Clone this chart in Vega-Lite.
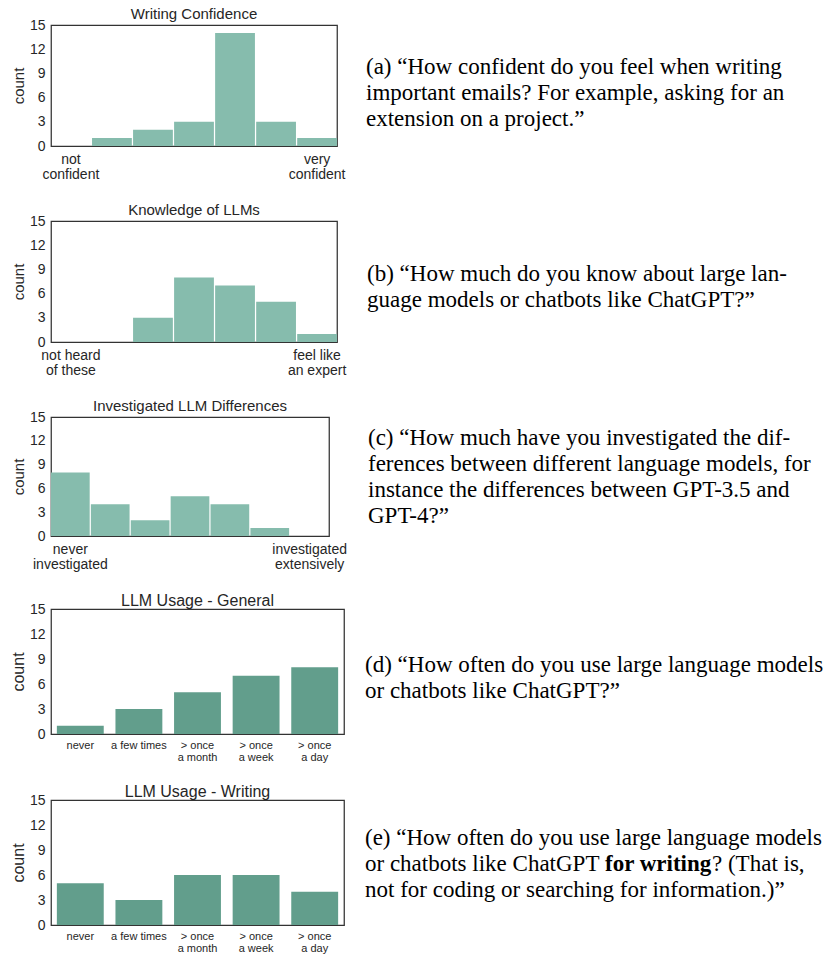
{
  "$schema": "https://vega.github.io/schema/vega-lite/v6.json",
  "padding": {"left": 9, "top": 6, "right": 0, "bottom": 0},
  "spacing": 20,
  "config": {
    "view": {"stroke": "#333333", "strokeWidth": 1.25},
    "axis": {"domain": false, "ticks": false, "grid": false, "labelFont": "Liberation Sans", "titleFont": "Liberation Sans", "labelColor": "#262626", "titleColor": "#262626", "titleFontWeight": "normal", "labelFontSize": 14, "titleFontSize": 15, "labelPadding": 6, "titlePadding": 3},
    "title": {"font": "Liberation Sans", "fontSize": 15, "fontWeight": "normal", "color": "#262626", "offset": -4},
    "text": {"font": "Liberation Serif", "fontSize": 23, "color": "#000000"}
  },
  "vconcat": [
    {
      "spacing": 20,
      "hconcat": [
        {
          "width": 286, "height": 121,
          "title": "Writing Confidence",
          "data": {"values": [
            {"level": 1, "count": 0}, {"level": 2, "count": 1}, {"level": 3, "count": 2}, {"level": 4, "count": 3},
            {"level": 5, "count": 14}, {"level": 6, "count": 3}, {"level": 7, "count": 1}
          ]},
          "mark": {"type": "bar", "color": "#86bcad"},
          "encoding": {
            "x": {"field": "level", "type": "ordinal", "scale": {"paddingInner": 0.03, "paddingOuter": 0}, "axis": {"title": null, "labelAngle": 0, "labelFontSize": 14, "labelLineHeight": 15, "labelPadding": 6, "labelExpr": "datum.value == 1 ? ['not', 'confident'] : datum.value == 7 ? ['very', 'confident'] : ''"}},
            "y": {"field": "count", "type": "quantitative", "scale": {"domain": [0, 15], "nice": false}, "axis": {"values": [0, 3, 6, 9, 12, 15], "title": "count"}}
          }
        },
        {
          "width": 460, "height": 121,
          "view": {"stroke": null},
          "data": {"values": [{"caption": "(a) “How confident do you feel when writing\nimportant emails? For example, asking for an\nextension on a project.”"}]},
          "mark": {"type": "text", "font": "Liberation Serif", "fontSize": 23, "align": "left", "baseline": "middle", "lineBreak": "\n", "lineHeight": 26, "dy": -18.5},
          "encoding": {"text": {"field": "caption"}, "x": {"value": 0}}
        }
      ]
    },
    {
      "spacing": 20,
      "hconcat": [
        {
          "width": 286, "height": 121,
          "title": "Knowledge of LLMs",
          "data": {"values": [
            {"level": 1, "count": 0}, {"level": 2, "count": 0}, {"level": 3, "count": 3}, {"level": 4, "count": 8},
            {"level": 5, "count": 7}, {"level": 6, "count": 5}, {"level": 7, "count": 1}
          ]},
          "mark": {"type": "bar", "color": "#86bcad"},
          "encoding": {
            "x": {"field": "level", "type": "ordinal", "scale": {"paddingInner": 0.03, "paddingOuter": 0}, "axis": {"title": null, "labelAngle": 0, "labelFontSize": 14, "labelLineHeight": 15, "labelPadding": 6, "labelExpr": "datum.value == 1 ? ['not heard', 'of these'] : datum.value == 7 ? ['feel like', 'an expert'] : ''"}},
            "y": {"field": "count", "type": "quantitative", "scale": {"domain": [0, 15], "nice": false}, "axis": {"values": [0, 3, 6, 9, 12, 15], "title": "count"}}
          }
        },
        {
          "width": 460, "height": 121,
          "view": {"stroke": null},
          "data": {"values": [{"caption": "(b) “How much do you know about large lan-\nguage models or chatbots like ChatGPT?”"}]},
          "mark": {"type": "text", "font": "Liberation Serif", "fontSize": 23, "align": "left", "baseline": "middle", "lineBreak": "\n", "lineHeight": 26, "dy": -7.5},
          "encoding": {"text": {"field": "caption"}, "x": {"value": 0}}
        }
      ]
    },
    {
      "spacing": 20,
      "hconcat": [
        {
          "width": 278, "height": 119,
          "title": "Investigated LLM Differences",
          "data": {"values": [
            {"level": 1, "count": 8}, {"level": 2, "count": 4}, {"level": 3, "count": 2}, {"level": 4, "count": 5},
            {"level": 5, "count": 4}, {"level": 6, "count": 1}, {"level": 7, "count": 0}
          ]},
          "mark": {"type": "bar", "color": "#86bcad"},
          "encoding": {
            "x": {"field": "level", "type": "ordinal", "scale": {"paddingInner": 0.03, "paddingOuter": 0}, "axis": {"title": null, "labelAngle": 0, "labelFontSize": 14, "labelLineHeight": 15, "labelPadding": 6, "labelExpr": "datum.value == 1 ? ['never', 'investigated'] : datum.value == 7 ? ['investigated', 'extensively'] : ''"}},
            "y": {"field": "count", "type": "quantitative", "scale": {"domain": [0, 15], "nice": false}, "axis": {"values": [0, 3, 6, 9, 12, 15], "title": "count"}}
          }
        },
        {
          "width": 460, "height": 119,
          "view": {"stroke": null},
          "data": {"values": [{"caption": "(c) “How much have you investigated the dif-\nferences between different language models, for\ninstance the differences between GPT-3.5 and\nGPT-4?”"}]},
          "mark": {"type": "text", "font": "Liberation Serif", "fontSize": 23, "align": "left", "baseline": "middle", "lineBreak": "\n", "lineHeight": 26, "dy": -38.5},
          "encoding": {"text": {"field": "caption"}, "x": {"value": 0}}
        }
      ]
    },
    {
      "spacing": 20,
      "hconcat": [
        {
          "width": 293, "height": 125,
          "title": {"text": "LLM Usage - General", "fontSize": 16, "offset": -7},
          "data": {"values": [
            {"freq": "never", "count": 1}, {"freq": "a few times", "count": 3}, {"freq": "> once a month", "count": 5},
            {"freq": "> once a week", "count": 7}, {"freq": "> once a day", "count": 8}
          ]},
          "mark": {"type": "bar", "color": "#629e8c"},
          "encoding": {
            "x": {"field": "freq", "type": "nominal", "sort": null, "scale": {"paddingInner": 0.2, "paddingOuter": 0.1}, "axis": {"title": null, "labelAngle": 0, "labelFontSize": 11, "labelLineHeight": 12, "labelPadding": 5, "labelExpr": "substring(datum.value, 0, 6) == '> once' ? ['> once', substring(datum.value, 7)] : datum.value"}},
            "y": {"field": "count", "type": "quantitative", "scale": {"domain": [0, 15], "nice": false}, "axis": {"values": [0, 3, 6, 9, 12, 15], "title": "count", "titleFontSize": 16}}
          }
        },
        {
          "width": 460, "height": 125,
          "view": {"stroke": null},
          "data": {"values": [{"caption": "(d) “How often do you use large language models\nor chatbots like ChatGPT?”"}]},
          "mark": {"type": "text", "font": "Liberation Serif", "fontSize": 23, "align": "left", "baseline": "middle", "lineBreak": "\n", "lineHeight": 26, "dy": -6.5},
          "encoding": {"text": {"field": "caption"}, "x": {"value": 0}}
        }
      ]
    },
    {
      "spacing": 20,
      "hconcat": [
        {
          "width": 293, "height": 125,
          "title": {"text": "LLM Usage - Writing", "fontSize": 16, "offset": -7},
          "data": {"values": [
            {"freq": "never", "count": 5}, {"freq": "a few times", "count": 3}, {"freq": "> once a month", "count": 6},
            {"freq": "> once a week", "count": 6}, {"freq": "> once a day", "count": 4}
          ]},
          "mark": {"type": "bar", "color": "#629e8c"},
          "encoding": {
            "x": {"field": "freq", "type": "nominal", "sort": null, "scale": {"paddingInner": 0.2, "paddingOuter": 0.1}, "axis": {"title": null, "labelAngle": 0, "labelFontSize": 11, "labelLineHeight": 12, "labelPadding": 5, "labelExpr": "substring(datum.value, 0, 6) == '> once' ? ['> once', substring(datum.value, 7)] : datum.value"}},
            "y": {"field": "count", "type": "quantitative", "scale": {"domain": [0, 15], "nice": false}, "axis": {"values": [0, 3, 6, 9, 12, 15], "title": "count", "titleFontSize": 16}}
          }
        },
        {
          "width": 460, "height": 125,
          "view": {"stroke": null},
          "data": {"values": [
            {"part": "plain", "caption": "(e) “How often do you use large language models\nor chatbots like ChatGPT\nnot for coding or searching for information.)”"},
            {"part": "bold", "caption": "for writing"},
            {"part": "tail", "caption": "? (That is,"}
          ]},
          "layer": [
            {
              "transform": [{"filter": "datum.part == 'plain'"}],
              "mark": {"type": "text", "font": "Liberation Serif", "fontSize": 23, "align": "left", "baseline": "middle", "lineBreak": "\n", "lineHeight": 26, "dy": -24.5},
              "encoding": {"text": {"field": "caption"}, "x": {"value": 0}}
            },
            {
              "transform": [{"filter": "datum.part == 'bold'"}],
              "mark": {"type": "text", "font": "Liberation Serif", "fontSize": 23, "align": "left", "baseline": "middle", "fontWeight": "bold", "dy": 1.5, "dx": 240},
              "encoding": {"text": {"field": "caption"}, "x": {"value": 0}}
            },
            {
              "transform": [{"filter": "datum.part == 'tail'"}],
              "mark": {"type": "text", "font": "Liberation Serif", "fontSize": 23, "align": "left", "baseline": "middle", "dy": 1.5, "dx": 347},
              "encoding": {"text": {"field": "caption"}, "x": {"value": 0}}
            }
          ]
        }
      ]
    }
  ]
}
